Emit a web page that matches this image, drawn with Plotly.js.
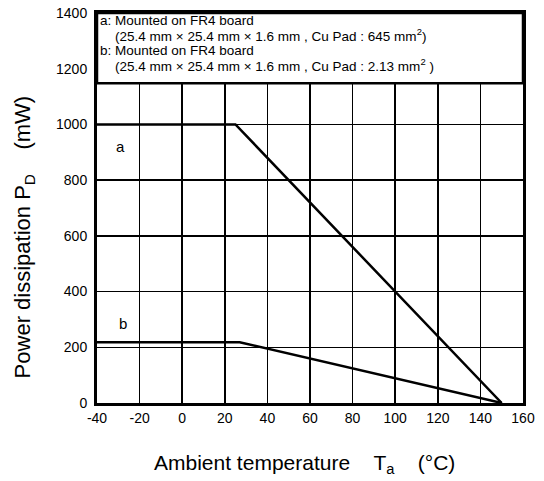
<!DOCTYPE html>
<html><head><meta charset="utf-8">
<script src="https://cdn.plot.ly/plotly-3.0.1.min.js"></script>
<style>html,body{margin:0;padding:0;background:#fff}</style>
</head><body><div id="chart" style="width:544px;height:481px"></div>
<script>
const tempA = [-40, 25, 150];
const powerA = [1000, 1000, 0];
const tempB = [-40, 27, 150];
const powerB = [218, 218, 0];
const xTicks = [-40, -20, 0, 20, 40, 60, 80, 100, 120, 140, 160];
const yTicks = [0, 200, 400, 600, 800, 1000, 1200, 1400];
const noteLines = [
  "a: Mounted on FR4 board",
  "&nbsp;&nbsp;&nbsp;&nbsp;(25.4 mm × 25.4 mm × 1.6 mm , Cu Pad : 645 mm<sup>2</sup>)",
  "b: Mounted on FR4 board",
  "&nbsp;&nbsp;&nbsp;&nbsp;(25.4 mm × 25.4 mm × 1.6 mm , Cu Pad : 2.13 mm<sup>2</sup> )"
];
const noteY = [0.982, 0.944, 0.905, 0.867];
const boxBottom = 1148;
const font = "Liberation Sans, Arial, sans-serif";

const traces = [
  {x: tempA, y: powerA, mode: "lines", line: {color: "#000", width: 2.5}, hoverinfo: "skip"},
  {x: tempB, y: powerB, mode: "lines", line: {color: "#000", width: 2.5}, hoverinfo: "skip"}
];

const layout = {
  width: 544, height: 481,
  margin: {l: 97, r: 21, t: 13, b: 78},
  paper_bgcolor: "#fff", plot_bgcolor: "#fff",
  showlegend: false,
  font: {family: font, color: "#000", size: 14},
  xaxis: {
    range: [-40, 160], tickvals: xTicks, ticktext: xTicks.map(String),
    showgrid: true, gridcolor: "#000", gridwidth: 1.5, zeroline: false,
    showline: true, linecolor: "#000", linewidth: 3, mirror: true,
    ticks: "", tickfont: {size: 14}
  },
  yaxis: {
    range: [0, 1400], tickvals: yTicks, ticktext: yTicks.map(String),
    showgrid: true, gridcolor: "#000", gridwidth: 1.5, zeroline: false,
    showline: true, linecolor: "#000", linewidth: 3, mirror: true,
    ticks: "outside", ticklen: 4, tickcolor: "rgba(0,0,0,0)", tickfont: {size: 14}
  },
  shapes: [
    {type: "rect", xref: "x", yref: "y", x0: -40, x1: 160, y0: boxBottom, y1: 1400,
     fillcolor: "#fff", line: {color: "#000", width: 2.5}, layer: "between"}
  ],
  annotations: [
    ...noteLines.map((t, i) => ({
      xref: "paper", yref: "paper", x: 0.004, y: noteY[i],
      xanchor: "left", yanchor: "middle", text: t, showarrow: false, borderpad: 0,
      font: {size: 13.5, family: font}
    })),
    {xref: "x", yref: "y", x: -29, y: 919, text: "a", showarrow: false, font: {size: 15}},
    {xref: "x", yref: "y", x: -28, y: 287, text: "b", showarrow: false, font: {size: 15}},
    {xref: "paper", yref: "paper", x: 0.128, y: -0.157, xanchor: "left", yanchor: "middle",
     text: "Ambient temperature&nbsp;&nbsp;&nbsp;&nbsp;T<sub>a</sub>&nbsp;&nbsp;&nbsp;&nbsp;(°C)",
     showarrow: false, font: {size: 21}},
    {xref: "paper", yref: "paper", x: -0.171, y: 0.425, xanchor: "center", yanchor: "middle",
     textangle: -90,
     text: "Power dissipation P<sub>D</sub>&nbsp;&nbsp;&nbsp;&nbsp;(mW)",
     showarrow: false, font: {size: 22}}
  ]
};
Plotly.newPlot("chart", traces, layout, {staticPlot: true, displayModeBar: false});
</script></body></html>
